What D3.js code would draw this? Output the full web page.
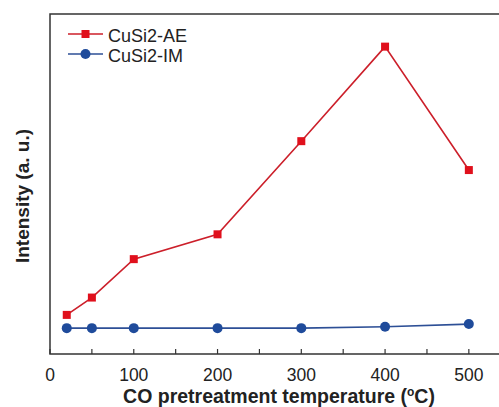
<!DOCTYPE html>
<html>
<head>
<meta charset="utf-8">
<script src="https://cdn.jsdelivr.net/npm/d3@7"></script>
<style>
  body { margin: 0; background: #fff; }
  svg { display: block; font-family: "Liberation Sans", Arial, sans-serif; }
</style>
</head>
<body>
<svg id="chart" width="499" height="407"></svg>
<script>
// temperatures (C)
const temps = [20, 50, 100, 200, 300, 400, 500];
// intensity, arbitrary units
const aeValues = [11.5, 16.6, 27.9, 35.2, 62.6, 90.4, 54.1];
const imValues = [7.6, 7.6, 7.6, 7.6, 7.6, 8.0, 8.8];
const xTicks = [0, 100, 200, 300, 400, 500];
const minorTicks = [50, 150, 250, 350, 450];
const seriesNames = ["CuSi2-AE", "CuSi2-IM"];

const svg = d3.select("#chart");
const plotLeft = 50, plotRight = 499, plotTop = 14, plotBottom = 354;

const x = d3.scaleLinear().domain([0, 536]).range([plotLeft, plotRight]);
const y = d3.scaleLinear().domain([0, 100]).range([plotBottom, plotTop]);

// frame (right side runs off the picture)
svg.append("path")
    .attr("d", `M${plotRight + 2},${plotTop}H${plotLeft}V${plotBottom}H${plotRight + 2}`)
    .attr("fill", "none")
    .attr("stroke", "#333")
    .attr("stroke-width", 1.5);

// ticks pointing inward
svg.append("g").selectAll("line")
    .data(xTicks.concat(minorTicks))
    .join("line")
    .attr("x1", d => x(d)).attr("x2", d => x(d))
    .attr("y1", plotBottom).attr("y2", plotBottom - 5)
    .attr("stroke", "#333")
    .attr("stroke-width", 1.2);

svg.append("g").selectAll("text")
    .data(xTicks)
    .join("text")
    .attr("x", d => x(d))
    .attr("y", 381)
    .attr("text-anchor", "middle")
    .attr("font-size", 17.5)
    .attr("fill", "#222")
    .text(d => d);

// axis titles
const xt = svg.append("text")
    .attr("x", 279)
    .attr("y", 403)
    .attr("text-anchor", "middle")
    .attr("font-size", 19.5)
    .attr("font-weight", "bold")
    .attr("fill", "#222");
xt.append("tspan").text("CO pretreatment temperature (");
xt.append("tspan").attr("font-size", 12).attr("dy", -7).text("o");
xt.append("tspan").attr("dy", 7).text("C)");

svg.append("text")
    .attr("transform", `translate(28.5,196) rotate(-90)`)
    .attr("text-anchor", "middle")
    .attr("font-size", 19)
    .attr("font-weight", "bold")
    .attr("fill", "#222")
    .text("Intensity (a. u.)");

const line = d3.line().x(d => x(d[0])).y(d => y(d[1]));

// IM series
const imData = temps.map((t, i) => [t, imValues[i]]);
svg.append("path")
    .datum(imData)
    .attr("d", line)
    .attr("fill", "none")
    .attr("stroke", "#2d4f96")
    .attr("stroke-width", 1.6);
svg.append("g").selectAll("circle")
    .data(imData)
    .join("circle")
    .attr("cx", d => x(d[0]))
    .attr("cy", d => y(d[1]))
    .attr("r", 5)
    .attr("fill", "#1f4b9b");

// AE series
const aeData = temps.map((t, i) => [t, aeValues[i]]);
svg.append("path")
    .datum(aeData)
    .attr("d", line)
    .attr("fill", "none")
    .attr("stroke", "#cc1f2a")
    .attr("stroke-width", 1.6);
svg.append("g").selectAll("rect")
    .data(aeData)
    .join("rect")
    .attr("x", d => x(d[0]) - 4)
    .attr("y", d => y(d[1]) - 4)
    .attr("width", 8)
    .attr("height", 8)
    .attr("fill", "#e0101c");

// legend
const legend = svg.append("g");
const legendY = [34, 54];
const colors = [["#cc1f2a", "#e0101c"], ["#2d4f96", "#1f4b9b"]];
seriesNames.forEach((name, i) => {
    legend.append("line")
        .attr("x1", 68).attr("x2", 103)
        .attr("y1", legendY[i]).attr("y2", legendY[i])
        .attr("stroke", colors[i][0])
        .attr("stroke-width", 1.6);
    if (i === 0) {
        legend.append("rect")
            .attr("x", 81.5).attr("y", legendY[i] - 4)
            .attr("width", 8).attr("height", 8)
            .attr("fill", colors[i][1]);
    } else {
        legend.append("circle")
            .attr("cx", 85.5).attr("cy", legendY[i])
            .attr("r", 5)
            .attr("fill", colors[i][1]);
    }
    legend.append("text")
        .attr("x", 108)
        .attr("y", legendY[i] + 8)
        .attr("font-size", 18)
        .attr("fill", "#222")
        .text(name);
});
</script>
</body>
</html>
